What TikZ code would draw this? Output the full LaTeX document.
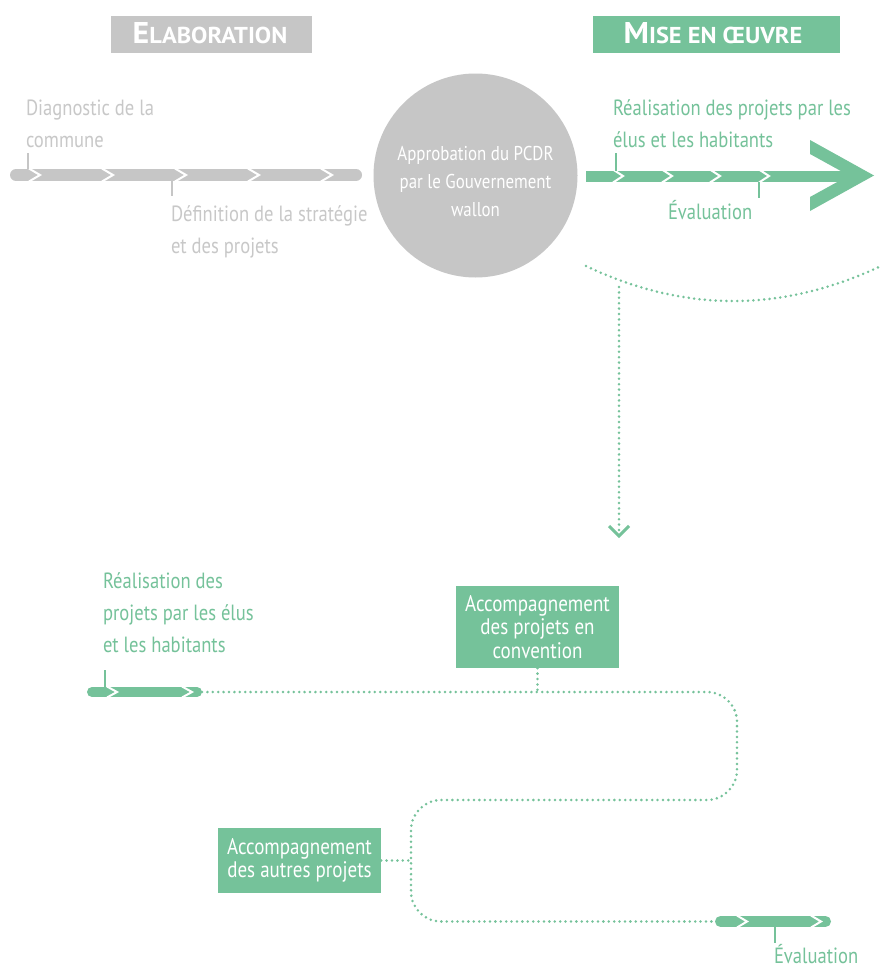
\documentclass[tikz,border=0pt]{standalone}
\usepackage{fontspec}
\setmainfont{PT Sans}
\newfontfamily\cond[FakeStretch=0.845]{PT Sans}
\newfontfamily\hdr[FakeStretch=1.06]{PT Sans}
\definecolor{vert}{RGB}{117,194,154}
\definecolor{gris}{RGB}{198,198,198}
\definecolor{gristxt}{RGB}{200,200,200}
\begin{document}
\begin{tikzpicture}[x=1pt,y=-1pt,
  chev/.style={draw=white, line width=2pt, line join=miter},
  tickmark/.style={line width=2.5pt},
  dots/.style={draw=vert, line width=2.8pt, line cap=round, dash pattern=on 0pt off 5.4pt},
  lbl/.style={inner sep=0pt, outer sep=0pt, align=left, font=\cond\fontsize{22}{32}\selectfont},
  boxtxt/.style={fill=vert, text=white, inner sep=0pt, minimum width=163pt, align=center, font=\cond\fontsize{22.5}{23.5}\selectfont},
  hdrbox/.style={inner sep=0pt, minimum height=37pt},
  hdrtxt/.style={inner sep=0pt, text=white, anchor=base},
  arrowv/.style={draw=vert, line width=3pt, line join=miter}
]
\useasboundingbox (0,0) rectangle (881,969);
\fill[white] (0,0) rectangle (881,969);

% headers
\node[hdrbox, fill=gris, minimum width=201pt] (helab) at (211.5,34.5) {};
\node[hdrtxt] (telab) at (210,43) {\hdr\bfseries\fontsize{30}{30}\selectfont E\fontsize{23}{30}\selectfont LABORATION};
\node[hdrbox, fill=vert, minimum width=247pt] (hmise) at (716.5,34.5) {};
\node[hdrtxt] (tmise) at (713,43) {\hdr\bfseries\fontsize{30}{30}\selectfont M\fontsize{23}{30}\selectfont ISE EN ŒUVRE};

% gray timeline
\draw[gris, line width=12pt, line cap=round] (16,175) coordinate (gs) -- (356,175) coordinate (ge);
\foreach \t in {40,113,186,259,332} \draw[chev] (\t-11,168.5) -- (\t,175) -- (\t-11,181.5);
\draw[gris, tickmark] (28,153) -- (28,169);
\draw[gris, tickmark] (172,181) -- (172,196);
\node[lbl, text=gristxt, anchor=north west] (diag) at (26,92.6) {\strut Diagnostic de la\\commune};
\node[lbl, text=gristxt, anchor=north west] (defi) at (171,198.6) {\strut Définition de la stratégie\\et des projets};

% circle
\node[circle, fill=gris, minimum size=204pt, inner sep=0pt] (circ) at (475.5,175.5) {};
\node[inner sep=0pt, text=white, align=center, font=\cond\fontsize{20}{28}\selectfont] (circtxt) at (475.5,181.5) {Approbation du PCDR\\par le Gouvernement\\wallon};

% green arrow
\fill[vert] (586,170.5) rectangle (855,181.5);
\fill[vert] (810,140) -- (874,175.5) -- (810,211) -- (810,197) -- (849,175.5) -- (810,154) -- cycle;
\foreach \t in {623,672,720,769} \draw[chev] (\t-10,169.5) -- (\t,176) -- (\t-10,182.5);
\draw[vert, tickmark] (616,153) -- (616,170.5);
\draw[vert, tickmark] (759,181.5) -- (759,198);
\node[lbl, text=vert, anchor=north west] (real1) at (613,92.6) {\strut Réalisation des projets par les\\élus et les habitants};
\node[lbl, text=vert, anchor=base west] (eval1) at (668,219) {Évaluation};

% arc and descending arrow
\draw[dots] (586,266) coordinate (arcL) .. controls (684,312.7) and (782,312.7) .. (881,266) coordinate (arcR);
\coordinate (vtop) at (619,287);
\coordinate (vbot) at (619,533);
\draw[dots] (vtop) -- (vbot);
\draw[arrowv] (609,526) -- (619,536) coordinate (vtip) -- (629,526);

% bottom left bar
\draw[vert, line width=10pt, line cap=round] (92,692) coordinate (bls) -- (197,692) coordinate (ble);
\foreach \t in {117,192} \draw[chev] (\t-10,686.5) -- (\t,692) -- (\t-10,697.5);
\draw[vert, tickmark] (105,670) -- (105,687);
\node[lbl, text=vert, anchor=north west] (real2) at (103,565.6) {\strut Réalisation des\\projets par les élus\\et les habitants};

% bottom right bar
\draw[vert, line width=11pt, line cap=round] (720.5,921.5) coordinate (brs) -- (825.5,921.5) coordinate (bre);
\foreach \t in {747,821} \draw[chev] (\t-10,915.5) -- (\t,921.5) -- (\t-10,927.5);
\draw[vert, tickmark] (775,927) -- (775,943);
\node[lbl, text=vert, anchor=base west] (eval2) at (774,963) {Évaluation};

% boxes
\node[boxtxt, minimum height=82pt] (box1) at (537.5,627) {Accompagnement\\des projets en\\convention};
\node[boxtxt, minimum height=65pt] (box2) at (299.5,860.5) {Accompagnement\\des autres projets};

% dotted winding path
\draw[dots, rounded corners=30pt] (202,692) -- (737,692) -- (737,800) -- (411,800) -- (411,921.5) -- (715,921.5);
\draw[dots] (box1.south) -- (box1.south |- ble);
\draw[dots] (box2.east) -- (411,860.5);
\end{tikzpicture}
\end{document}
